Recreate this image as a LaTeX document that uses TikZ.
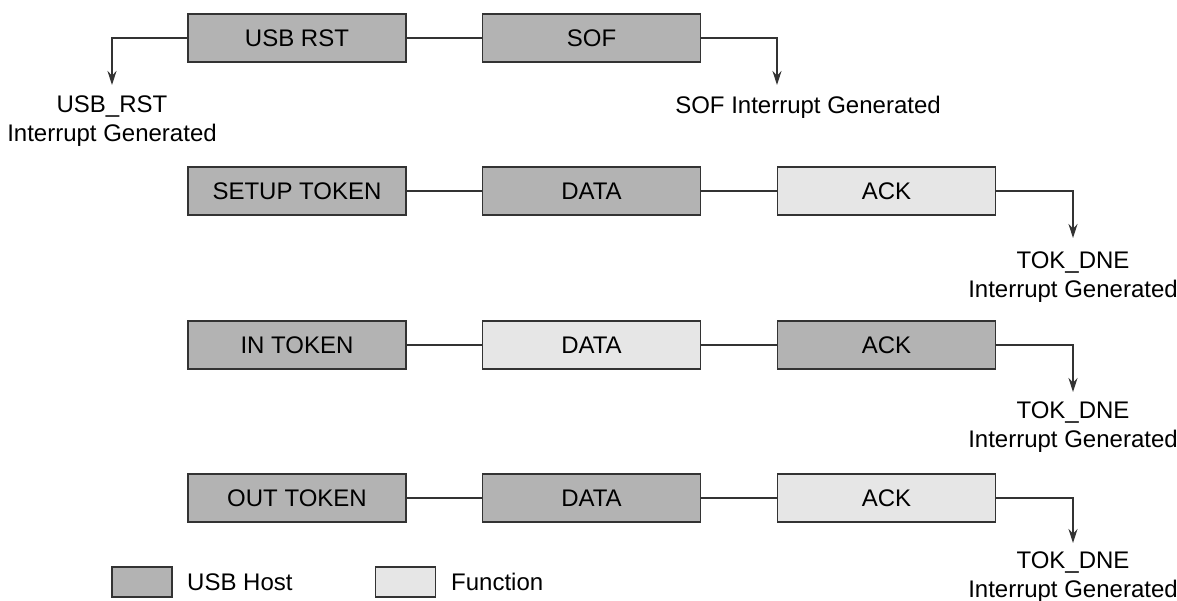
\documentclass[tikz,border=0pt]{standalone}
\usepackage{fontspec}
\setmainfont{Liberation Sans}
\usetikzlibrary{arrows.meta}
\definecolor{host}{HTML}{B3B3B3}
\definecolor{func}{HTML}{E6E6E6}
\definecolor{edge}{HTML}{333333}
\begin{document}
\begin{tikzpicture}[x=1pt,y=-1pt,
  font=\fontsize{24}{29}\selectfont,
  pkt/.style={draw=edge,line width=1.4pt,minimum width=218pt,minimum height=48pt,inner sep=0pt},
  hostbox/.style={pkt,fill=host},
  funcbox/.style={pkt,fill=func},
  lbl/.style={align=center,inner sep=0pt},
  link/.style={draw=edge,line width=1.2pt},
  intr/.style={link,-{Stealth[length=14pt,width=9pt]}},
  legbox/.style={draw=edge,line width=1.4pt,minimum width=60pt,minimum height=30pt,inner sep=0pt}
]
\useasboundingbox (0,0) rectangle (1177,601);
% row 1
\node[hostbox] (rst) at (297,38) {USB RST};
\node[hostbox] (sof) at (591.5,38) {SOF};
\coordinate (rstend) at (112,85);
\coordinate (sofend) at (777,85);
\node[lbl] (rstl) at (112,121) {USB\_RST\\Interrupt Generated};
\node[lbl] (sofl) at (808,107) {SOF Interrupt Generated};
\draw[link] (rst) -- (sof);
\draw[intr] (rst.west) -| (rstend);
\draw[intr] (sof.east) -| (sofend);
% row 2
\node[hostbox] (setup) at (297,191) {SETUP TOKEN};
\node[hostbox] (d2) at (591.5,191) {DATA};
\node[funcbox] (a2) at (886.5,191) {ACK};
\coordinate (e2) at (1073,238);
\node[lbl] (l2) at (1073,277) {TOK\_DNE\\Interrupt Generated};
\draw[link] (setup) -- (d2);
\draw[link] (d2) -- (a2);
\draw[intr] (a2.east) -| (e2);
% row 3
\node[hostbox] (intok) at (297,345) {IN TOKEN};
\node[funcbox] (d3) at (591.5,345) {DATA};
\node[hostbox] (a3) at (886.5,345) {ACK};
\coordinate (e3) at (1073,392);
\node[lbl] (l3) at (1073,427.5) {TOK\_DNE\\Interrupt Generated};
\draw[link] (intok) -- (d3);
\draw[link] (d3) -- (a3);
\draw[intr] (a3.east) -| (e3);
% row 4
\node[hostbox] (outtok) at (297,498) {OUT TOKEN};
\node[hostbox] (d4) at (591.5,498) {DATA};
\node[funcbox] (a4) at (886.5,498) {ACK};
\coordinate (e4) at (1073,543);
\node[lbl] (l4) at (1073,577.5) {TOK\_DNE\\Interrupt Generated};
\draw[link] (outtok) -- (d4);
\draw[link] (d4) -- (a4);
\draw[intr] (a4.east) -| (e4);
% legend
\node[legbox,fill=host] (lh) at (142,582) {};
\node[lbl,anchor=west] (lht) at (187,582) {USB Host};
\node[legbox,fill=func] (lf) at (405.5,582) {};
\node[lbl,anchor=west] (lft) at (451,582) {Function};
\end{tikzpicture}
\end{document}
